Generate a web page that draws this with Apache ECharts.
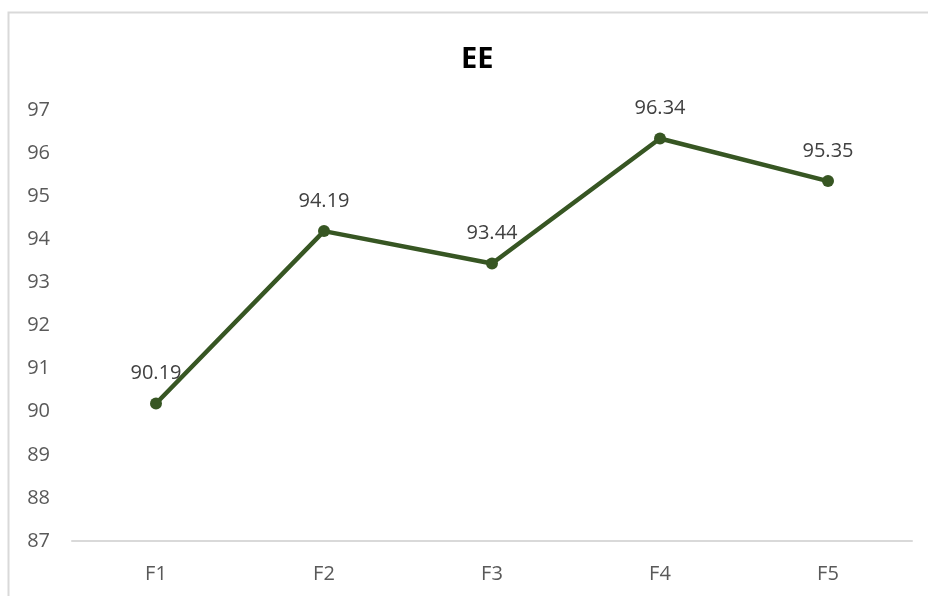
<!DOCTYPE html>
<html>
<head>
<meta charset="utf-8">
<script src="https://cdn.jsdelivr.net/npm/echarts@6/dist/echarts.min.js"></script>
<style>
  html, body { margin: 0; padding: 0; background: #fff; }
  #chart { width: 928px; height: 596px; }
</style>
</head>
<body>
<div id="chart"></div>
<script>
// EE values for formulations F1–F5
const categories = ['F1', 'F2', 'F3', 'F4', 'F5'];
const eeValues = [90.19, 94.19, 93.44, 96.34, 95.35];
const yMin = 87;
const yMax = 97;

const chart = echarts.init(document.getElementById('chart'));
const font = '"Open Sans", "Noto Sans", sans-serif';

chart.setOption({
  backgroundColor: '#ffffff',
  animation: false,
  graphic: [{
    type: 'rect',
    shape: { x: 8.5, y: 12.5, width: 940, height: 600 },
    style: { fill: 'none', stroke: '#d9d9d9', lineWidth: 2 },
    silent: true
  }],
  title: {
    text: 'EE',
    left: 456,
    top: 40,
    textStyle: { fontFamily: font, fontWeight: 'bold', fontSize: 29, color: '#000' }
  },
  grid: { left: 72, right: 16, top: 110, bottom: 55, containLabel: false },
  xAxis: {
    type: 'category',
    data: categories,
    boundaryGap: true,
    axisLine: { lineStyle: { color: '#d9d9d9', width: 2 } },
    axisTick: { show: false },
    axisLabel: { fontFamily: font, fontSize: 20, color: '#595959', margin: 23 }
  },
  yAxis: {
    type: 'value',
    min: yMin,
    max: yMax,
    interval: 1,
    splitLine: { show: false },
    axisLine: { show: false },
    axisTick: { show: false },
    axisLabel: { fontFamily: font, fontSize: 20, color: '#595959', margin: 22, align: 'right' }
  },
  series: [{
    type: 'line',
    data: eeValues,
    symbol: 'circle',
    symbolSize: 12,
    lineStyle: { color: '#375623', width: 4.5 },
    itemStyle: { color: '#375623' },
    label: {
      show: true,
      position: 'top',
      distance: 14,
      fontFamily: font,
      fontSize: 20,
      color: '#404040',
      formatter: p => p.value.toFixed(2)
    }
  }]
});
</script>
</body>
</html>
